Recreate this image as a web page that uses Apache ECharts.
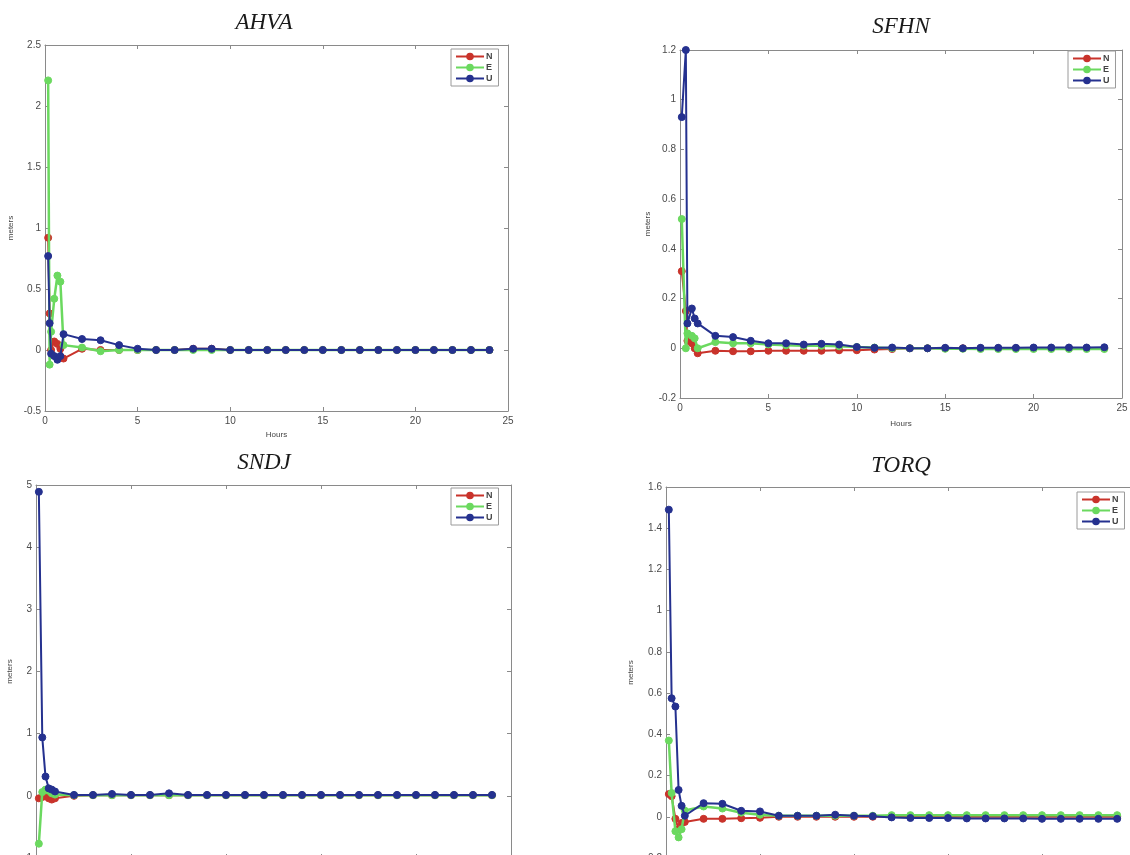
<!DOCTYPE html>
<html><head><meta charset="utf-8">
<script src="https://cdn.jsdelivr.net/npm/echarts@6/dist/echarts.min.js"></script>
<style>html,body{margin:0;padding:0;background:#fff}#c{width:1130px;height:855px}</style>
</head><body><div id="c"></div>
<script>
// ---- data ----
const stations = ['AHVA', 'SFHN', 'SNDJ', 'TORQ'];
const seriesNames = ['N', 'E', 'U'];
const xTicks = [0, 5, 10, 15, 20, 25];

const hoursAHVA = [0.17, 0.25, 0.33, 0.5, 0.67, 0.83, 1, 2, 3, 4, 5, 6, 7, 8, 9, 10, 11, 12, 13, 14, 15, 16, 17, 18, 19, 20, 21, 22, 23, 24];
const ahvaN = [0.92, 0.30, 0.00, 0.07, 0.05, 0.01, -0.07, 0.01, 0.00, 0.00, 0.00, 0.00, 0.00, 0.01, 0.01, 0.00, 0.00, 0.00, 0.00, 0.00, 0.00, 0.00, 0.00, 0.00, 0.00, 0.00, 0.00, 0.00, 0.00, 0.00];
const ahvaE = [2.21, -0.12, 0.15, 0.42, 0.61, 0.56, 0.04, 0.02, -0.01, 0.00, 0.00, 0.00, 0.00, 0.00, 0.00, 0.00, 0.00, 0.00, 0.00, 0.00, 0.00, 0.00, 0.00, 0.00, 0.00, 0.00, 0.00, 0.00, 0.00, 0.00];
const ahvaU = [0.77, 0.22, -0.03, -0.05, -0.08, -0.05, 0.13, 0.09, 0.08, 0.04, 0.01, 0.00, 0.00, 0.01, 0.01, 0.00, 0.00, 0.00, 0.00, 0.00, 0.00, 0.00, 0.00, 0.00, 0.00, 0.00, 0.00, 0.00, 0.00, 0.00];

const hoursSFHN = [0.1, 0.33, 0.42, 0.67, 0.83, 1, 2, 3, 4, 5, 6, 7, 8, 9, 10, 11, 12, 13, 14, 15, 16, 17, 18, 19, 20, 21, 22, 23, 24];
const sfhnN = [0.31, 0.15, 0.03, 0.02, 0.00, -0.02, -0.01, -0.012, -0.012, -0.01, -0.01, -0.01, -0.01, -0.008, -0.008, -0.005, -0.003, 0, 0, 0, 0, 0, 0, 0, 0, 0, 0, 0, 0];
const sfhnE = [0.52, 0.00, 0.06, 0.05, 0.04, 0.00, 0.025, 0.02, 0.02, 0.015, 0.012, 0.01, 0.01, 0.008, 0.005, 0.003, 0.0, 0.0, 0.0, -0.002, -0.002, -0.003, -0.003, -0.003, -0.003, -0.003, -0.003, -0.003, -0.003];
const sfhnU = [0.93, 1.20, 0.10, 0.16, 0.12, 0.10, 0.05, 0.045, 0.03, 0.02, 0.02, 0.015, 0.018, 0.015, 0.005, 0.002, 0.003, 0.0, 0.0, 0.002, 0.0, 0.002, 0.002, 0.002, 0.003, 0.003, 0.003, 0.003, 0.004];

const hoursSNDJ = [0.15, 0.33, 0.5, 0.67, 0.83, 1, 2, 3, 4, 5, 6, 7, 8, 9, 10, 11, 12, 13, 14, 15, 16, 17, 18, 19, 20, 21, 22, 23, 24];
const sndjN = [-0.04, -0.02, 0.00, -0.04, -0.06, -0.04, 0.00, 0.01, 0.01, 0.01, 0.01, 0.01, 0.01, 0.01, 0.01, 0.01, 0.01, 0.01, 0.01, 0.01, 0.01, 0.01, 0.01, 0.01, 0.01, 0.01, 0.01, 0.01, 0.01];
const sndjE = [-0.77, 0.06, 0.10, 0.08, 0.04, 0.02, 0.01, 0.01, 0.01, 0.01, 0.01, 0.01, 0.01, 0.01, 0.01, 0.01, 0.01, 0.01, 0.01, 0.01, 0.01, 0.01, 0.01, 0.01, 0.01, 0.01, 0.01, 0.01, 0.01];
const sndjU = [4.89, 0.94, 0.31, 0.12, 0.10, 0.07, 0.015, 0.015, 0.03, 0.015, 0.015, 0.04, 0.015, 0.015, 0.015, 0.015, 0.015, 0.015, 0.015, 0.015, 0.015, 0.015, 0.015, 0.015, 0.015, 0.015, 0.015, 0.015, 0.015];

const hoursTORQ = [0.15, 0.3, 0.5, 0.67, 0.83, 1, 2, 3, 4, 5, 6, 7, 8, 9, 10, 11, 12, 13, 14, 15, 16, 17, 18, 19, 20, 21, 22, 23, 24];
const torqN = [0.11, 0.10, -0.01, -0.06, -0.03, -0.025, -0.01, -0.01, -0.007, -0.005, 0.00, 0.00, 0.00, 0.00, 0.00, 0.00, 0.00, 0.00, 0.00, 0.00, 0.00, 0.00, 0.00, 0.00, 0.00, 0.00, 0.00, 0.00, 0.00];
const torqE = [0.37, 0.115, -0.07, -0.10, -0.06, 0.03, 0.05, 0.04, 0.02, 0.01, 0.005, 0.005, 0.005, 0.005, 0.005, 0.005, 0.008, 0.008, 0.008, 0.008, 0.008, 0.008, 0.008, 0.008, 0.008, 0.008, 0.008, 0.008, 0.008];
const torqU = [1.49, 0.575, 0.535, 0.13, 0.053, 0.005, 0.066, 0.063, 0.029, 0.026, 0.005, 0.005, 0.005, 0.01, 0.005, 0.003, -0.003, -0.006, -0.006, -0.006, -0.008, -0.008, -0.008, -0.008, -0.01, -0.01, -0.01, -0.01, -0.01];

const yMins = [-0.5, -0.2, -1, -0.2];
const yMaxs = [2.5, 1.2, 5, 1.6];
const yIntervals = [0.5, 0.2, 1, 0.2];

// ---- layout / style ----
const grids = [
  {left: 45, top: 45, width: 463, height: 366},
  {left: 680, top: 50, width: 442, height: 348},
  {left: 36, top: 485, width: 475, height: 373},
  {left: 666, top: 487, width: 470, height: 371}
];
const titlePos = [[259, 6], [896, 10], [259, 446], [896, 449]];
const legendPos = [{left: 451, top: 49}, {left: 1068, top: 51}, {left: 451, top: 488}, {left: 1077, top: 492}];
const yNameGap = [30, 28, 22, 31];
const showX = [true, true, false, false];
const xNameGap = [20, 22, 20, 20];
const colors = {N: '#c9332b', E: '#6bd95f', U: '#25318f'};
const panelData = [
  [hoursAHVA, ahvaN, ahvaE, ahvaU],
  [hoursSFHN, sfhnN, sfhnE, sfhnU],
  [hoursSNDJ, sndjN, sndjE, sndjU],
  [hoursTORQ, torqN, torqE, torqU]
];
const pairs = (h, v) => h.map((t, i) => [t, v[i]]);
const axisColor = '#8a8a8a';
const labelStyle = {fontFamily: 'Liberation Sans', fontSize: 10, color: '#4a4a4a'};
const lineCfg = {show: true, onZero: false, lineStyle: {color: axisColor}};
const tickCfg = {show: true, inside: true, length: 4, lineStyle: {color: axisColor}};

const option = {
  animation: false,
  backgroundColor: '#fff',
  title: [], legend: [], grid: [], xAxis: [], yAxis: [], series: []
};

stations.forEach((name, i) => {
  option.title.push({
    text: name, left: titlePos[i][0], top: titlePos[i][1], textAlign: 'center',
    textStyle: {fontFamily: 'Liberation Serif', fontStyle: 'italic', fontWeight: 'normal', fontSize: 23, color: '#1a1a1a'}
  });
  option.grid.push(Object.assign({containLabel: false, outerBoundsMode: 'none'}, grids[i]));
  option.legend.push(Object.assign({
    orient: 'vertical', data: seriesNames, itemWidth: 28, itemHeight: 7, itemGap: 2,
    padding: [3, 6, 3, 4], borderColor: '#9a9a9a', borderWidth: 1, backgroundColor: '#fff',
    textStyle: {fontFamily: 'Liberation Sans', fontSize: 9, fontWeight: 'bold', color: '#444', padding: [0, 0, 0, -3]},
    selectedMode: false
  }, legendPos[i]));
  option.xAxis.push({
    type: 'value', gridIndex: i, min: 0, max: 25, interval: 5, position: 'bottom',
    name: showX[i] ? 'Hours' : '', nameLocation: 'middle', nameGap: xNameGap[i],
    nameTextStyle: {fontFamily: 'Liberation Sans', fontSize: 8, color: '#444'},
    axisLine: lineCfg, axisTick: tickCfg,
    axisLabel: Object.assign({show: showX[i], margin: 5}, labelStyle), splitLine: {show: false}
  });
  option.xAxis.push({
    type: 'value', gridIndex: i, min: 0, max: 25, interval: 5, position: 'top',
    axisLine: lineCfg, axisTick: tickCfg,
    axisLabel: {show: false}, splitLine: {show: false}
  });
  option.yAxis.push({
    type: 'value', gridIndex: i, min: yMins[i], max: yMaxs[i], interval: yIntervals[i], position: 'left',
    name: 'meters', nameLocation: 'middle', nameGap: yNameGap[i],
    nameTextStyle: {fontFamily: 'Liberation Sans', fontSize: 8, color: '#444'},
    axisLine: lineCfg, axisTick: tickCfg,
    axisLabel: Object.assign({margin: 4}, labelStyle), splitLine: {show: false}
  });
  option.yAxis.push({
    type: 'value', gridIndex: i, min: yMins[i], max: yMaxs[i], interval: yIntervals[i], position: 'right',
    axisLine: lineCfg, axisTick: tickCfg,
    axisLabel: {show: false}, splitLine: {show: false}
  });
  const [hrs, n, e, u] = panelData[i];
  [['N', n], ['E', e], ['U', u]].forEach(([sn, vals]) => {
    option.series.push({
      name: sn, type: 'line', xAxisIndex: 2 * i, yAxisIndex: 2 * i,
      data: pairs(hrs, vals), symbol: 'circle', symbolSize: 7, showSymbol: true,
      lineStyle: {color: colors[sn], width: sn === 'E' ? 2.5 : 2},
      itemStyle: {color: colors[sn], borderColor: colors[sn], borderWidth: 1},
      clip: true, z: sn === 'U' ? 4 : (sn === 'E' ? 3 : 2)
    });
  });
});

const chart = echarts.init(document.getElementById('c'), null, {renderer: 'canvas'});
chart.setOption(option);
</script>
</body></html>
